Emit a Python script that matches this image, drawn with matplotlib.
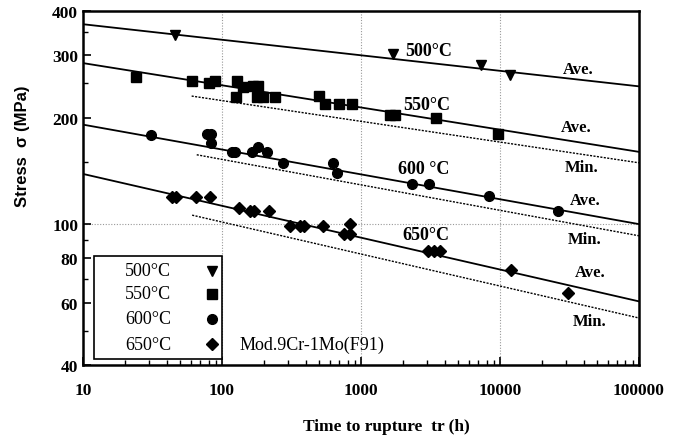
import matplotlib
matplotlib.use("Agg")
import matplotlib.pyplot as plt
from matplotlib.ticker import FixedLocator, NullFormatter
from matplotlib.patches import Rectangle

# rupture test data: time to rupture (h), stress (MPa)
t500 = [46, 1700, 7300, 11800]
s500 = [342, 302, 281, 263]

t550 = [24, 61, 80, 89, 126, 128, 142, 168, 178, 182, 198, 240,
        500, 550, 690, 860, 1620, 1760, 3470, 9700]
s550 = [260, 254, 250, 254, 228, 254, 244, 246, 229, 246, 229, 229,
        230, 219, 219, 219, 203, 203, 199, 180]

t600 = [31, 78, 84, 84, 118, 124, 164, 182, 210, 276, 625, 676,
        2320, 3100, 8400, 26000]
s600 = [179, 180, 180, 169, 160, 160, 160, 165, 160, 149, 149, 139,
        130, 130, 120, 109]

t650 = [43.5, 47, 65, 82, 133, 159, 170, 218, 308, 364, 389, 535,
        755, 834, 834, 3050, 3350, 3700, 12100, 30700]
s650 = [119, 119, 119, 119, 111, 109, 109, 109, 99, 99, 99, 99,
        94, 94, 100, 84, 84, 84, 74, 64]

# fitted lines: (t_start, t_end), (s_start, s_end)
ave_lines = {
    "500": ([10, 100000], [367, 245]),
    "550": ([10, 100000], [285, 160]),
    "600": ([10, 100000], [191, 100]),
    "650": ([10, 100000], [138.6, 60.5]),
}
min_lines = {
    "550": ([60.5, 100000], [230, 149]),
    "600": ([65.8, 100000], [157, 92.7]),
    "650": ([61, 100000], [106, 54.3]),
}

legend_labels = ["500\u00b0C", "550\u00b0C", "600\u00b0C", "650\u00b0C"]
legend_markers = [("v", 7), ("s", 6.5), ("o", 7), ("D", 6)]

serif = "Liberation Serif"

fig = plt.figure(figsize=(6.82, 4.39), dpi=100)
ax = fig.add_axes([0.1217, 0.1663, 0.8152, 0.8064])
ax.set_xscale("log")
ax.set_yscale("log")
ax.set_xlim(10, 100000)
ax.set_ylim(40, 400)

# grid: dotted verticals at decades, one horizontal at 100
for xv in [100, 1000, 10000]:
    ax.axvline(xv, color="#999999", lw=0.8, ls=(0, (1, 1.5)), zorder=0)
ax.axhline(100, color="#999999", lw=0.8, ls=(0, (1, 1.5)), zorder=0)

for key, (tx, sy) in ave_lines.items():
    ax.plot(tx, sy, color="black", lw=1.3, zorder=2)
for key, (tx, sy) in min_lines.items():
    ax.plot(tx, sy, color="black", lw=1.0, ls=(0, (1.5, 1)), zorder=2)

ax.plot(t500, s500, "v", color="black", ms=7, ls="none", zorder=3)
ax.plot(t550, s550, "s", color="black", ms=6.5, ls="none", zorder=3)
ax.plot(t600, s600, "o", color="black", ms=7, ls="none", zorder=3)
ax.plot(t650, s650, "D", color="black", ms=6, ls="none", zorder=3)

# curve labels (axes fractions)
lab_kw = dict(fontsize=13, fontweight="bold", family=serif, ha="center", va="center",
              transform=ax.transAxes)
ax.text(0.622, 0.887, "500\u00b0C", **lab_kw)
ax.text(0.619, 0.737, "550\u00b0C", **lab_kw)
ax.text(0.612, 0.554, "600 \u00b0C", **lab_kw)
ax.text(0.617, 0.370, "650\u00b0C", **lab_kw)

side_kw = dict(fontsize=12, fontweight="bold", family=serif, ha="center", va="center",
               transform=ax.transAxes)
for (fx, fy, txt) in [(0.890, 0.836, "Ave."), (0.888, 0.672, "Ave."), (0.897, 0.559, "Min."),
                      (0.903, 0.466, "Ave."), (0.903, 0.356, "Min."), (0.912, 0.263, "Ave."),
                      (0.912, 0.124, "Min.")]:
    ax.text(fx, fy, txt, **side_kw)

ax.text(0.282, 0.059, "Mod.9Cr-1Mo(F91)", fontsize=13, family=serif, ha="left", va="center",
        transform=ax.transAxes)

# legend box drawn by hand
ax.add_patch(Rectangle((0.0198, 0.017), 0.2302, 0.291, transform=ax.transAxes,
                       facecolor="white", edgecolor="black", lw=1.2, zorder=4))
for lab, (mk, ms), fy in zip(legend_labels, legend_markers, [0.266, 0.201, 0.130, 0.059]):
    ax.text(0.0755, fy, lab, fontsize=13, family=serif, ha="left", va="center",
            transform=ax.transAxes, zorder=5)
    ax.plot([0.232], [fy], mk, color="black", ms=ms, transform=ax.transAxes, zorder=5,
            clip_on=False)

# ticks
ax.yaxis.set_major_locator(FixedLocator([40, 60, 80, 100, 200, 300, 400]))
ax.yaxis.set_minor_locator(FixedLocator([50, 70, 90, 150, 250, 350]))
ax.set_yticklabels(["40", "60", "80", "100", "200", "300", "400"])
ax.yaxis.set_minor_formatter(NullFormatter())
ax.set_xticks([10, 100, 1000, 10000, 100000])
ax.set_xticklabels(["10", "100", "1000", "10000", "100000"])
ax.tick_params(which="major", direction="in", length=6, width=1.2, top=False, right=False)
ax.tick_params(which="minor", direction="in", length=3.5, width=1, top=False, right=False)
ax.tick_params(axis="x", which="major", pad=12)
for lab in ax.get_xticklabels() + ax.get_yticklabels():
    lab.set_family(serif)
    lab.set_fontweight("bold")
    lab.set_fontsize(12.5)

for sp in ax.spines.values():
    sp.set_linewidth(1.8)

ax.set_ylabel("Stress  \u03c3 (MPa)", fontsize=12, fontweight="bold", family="Liberation Sans")
ax.yaxis.set_label_coords(-0.095, 0.62)
fig.text(0.567, 0.027, "Time to rupture  tr (h)", fontsize=12.5, fontweight="bold",
         family=serif, ha="center", va="center")

fig.savefig("out.png", dpi=100, facecolor="white")
